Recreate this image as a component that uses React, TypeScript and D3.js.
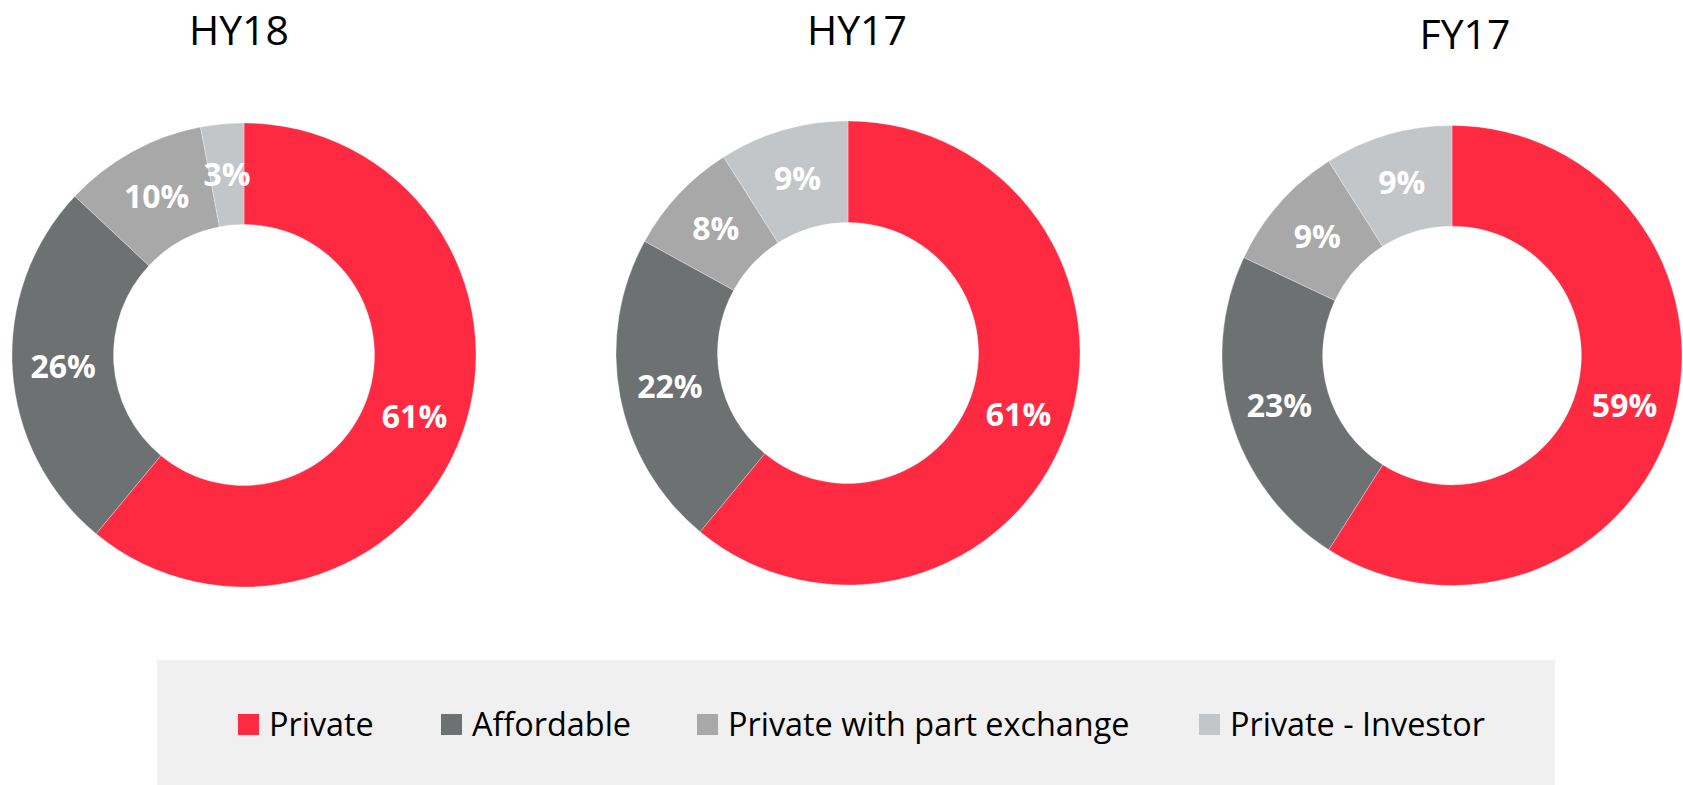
import React from "react";
import * as d3 from "d3";

const categories = ["Private", "Affordable", "Private with part exchange", "Private - Investor"];
const periods = ["HY18", "HY17", "FY17"];
const hy18Values = [61, 26, 10, 3];
const hy17Values = [61, 22, 8, 9];
const fy17Values = [59, 23, 9, 9];
const seriesByPeriod = [hy18Values, hy17Values, fy17Values];
const colors = ["#FE2A41", "#6E7172", "#A8A8A8", "#C3C6C8"];

const W = 1683;
const H = 785;
const centersX = [244, 848, 1452];
const centersY = [355, 353, 355.5];
const radii = [232, 232, 230];
const titleX = [239, 857, 1465];
const titleY = [45, 45, 49];
const INNER = 0.5625;

const legendSquareX = [238, 441, 697, 1199];

export default function App() {
  const pie = d3
    .pie<number>()
    .sort(null)
    .value((d) => d)
    .startAngle(0)
    .endAngle(2 * Math.PI);

  return (
    <svg
      width={W}
      height={H}
      style={{ position: "absolute", left: 0, top: 0, background: "#fff" }}
      fontFamily="'Open Sans', sans-serif"
    >
      {periods.map((p, pi) => {
        const arcs = pie(seriesByPeriod[pi]);
        const cx = centersX[pi];
        const cy = centersY[pi];
        const r = radii[pi];
        const arc = d3.arc<d3.PieArcDatum<number>>().innerRadius(r * INNER).outerRadius(r);
        return (
          <g key={p}>
            <text x={titleX[pi]} y={titleY[pi]} textAnchor="middle" fontSize={41} fill="#000">
              {p}
            </text>
            <g transform={`translate(${cx},${cy})`}>
              {arcs.map((a, i) => (
                <path
                  key={i}
                  d={arc(a) || ""}
                  fill={colors[i]}
                  stroke="#ffffff"
                  strokeOpacity={0.5}
                  strokeWidth={0.6}
                />
              ))}
              {arcs.map((a, i) => {
                const [x, y] = arc.centroid(a);
                return (
                  <text
                    key={"l" + i}
                    x={x}
                    y={y}
                    textAnchor="middle"
                    dy="0.36em"
                    fontSize={32}
                    fontWeight="bold"
                    fill="#fff"
                  >
                    {`${a.data}%`}
                  </text>
                );
              })}
            </g>
          </g>
        );
      })}
      <rect x={157} y={660} width={1555 - 157} height={H - 660} fill="#F0F0F0" />
      {categories.map((c, i) => (
        <g key={c}>
          <rect x={legendSquareX[i]} y={714} width={21} height={21} fill={colors[i]} />
          <text x={legendSquareX[i] + 31} y={736} fontSize={32.4} fill="#000">
            {c}
          </text>
        </g>
      ))}
    </svg>
  );
}
